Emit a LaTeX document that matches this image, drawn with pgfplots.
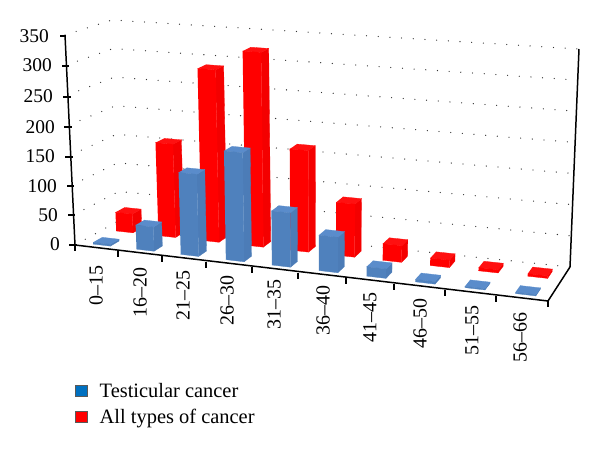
\documentclass[border=0pt]{standalone}
\usepackage{fontspec}
\setmainfont{Liberation Serif}
\usepackage{pgfplots}
\pgfplotsset{compat=1.18}
\definecolor{redF}{HTML}{FF0000}
\definecolor{redS}{HTML}{F40000}
\definecolor{redT}{HTML}{FF1010}
\definecolor{bluF}{HTML}{4F81BD}
\definecolor{bluS}{HTML}{4C7CB7}
\definecolor{bluT}{HTML}{5A8CCB}
\definecolor{legB}{HTML}{0070C0}
\definecolor{dotc}{HTML}{333333}
% a polygon given as rows "category offset depth value", projected into the picture
\pgfplotsset{
  table/proj/.style={x expr={PX(\thisrow{c}+\thisrow{d},\thisrow{t},\thisrow{v})},y expr={PY(\thisrow{c}+\thisrow{d},\thisrow{t},\thisrow{v})},row sep=\\},
  face/.style={fill=#1,draw=#1,line width=0.3pt,mark=none,forget plot},
  gridl/.style={draw=dotc,line width=1.3pt,line cap=round,dash pattern=on 0pt off 11.75pt,mark=none,forget plot},
  axl/.style={draw=black,line width=1.5pt,mark=none,forget plot},
}
% #1 category, #2 value, #3 t front, #4 t back, #5 colour prefix
\newcommand\Bar[5]{%
  \addplot[face=#5S] table[proj]{c d t v\\ #1 0.72 #3 0\\ #1 0.72 #4 0\\ #1 0.72 #4 #2\\ #1 0.72 #3 #2\\};
  \addplot[face=#5T] table[proj]{c d t v\\ #1 0.32 #3 #2\\ #1 0.72 #3 #2\\ #1 0.72 #4 #2\\ #1 0.32 #4 #2\\};
  \addplot[face=#5F] table[proj]{c d t v\\ #1 0.32 #3 0\\ #1 0.72 #3 0\\ #1 0.72 #3 #2\\ #1 0.32 #3 #2\\};
}
\newcommand\RedBar[2]{\Bar{#1}{#2}{0.62}{0.82}{red}}
\newcommand\BluBar[2]{\Bar{#1}{#2}{0.10}{0.30}{blu}}
\newcommand\Grid[1]{%
  \addplot[gridl] table[proj]{c d t v\\ 0 0 0 #1\\ 0 0 1 #1\\ 10 0 1 #1\\};
}
\begin{document}
\begin{tikzpicture}[
  declare function={
    FU(\a)=(\a/10)*(0.905+0.095*\a/10);
    PXB(\u,\t)=(1-\t)*(75+473*\u)+\t*(120+450*\u);
    PXT(\u,\t)=(1-\t)*(65+493*\u)+\t*(112+467*\u);
    PYB(\u,\t)=(1-\t)*(245+56*\u)+\t*(220+47*\u);
    PYT(\u,\t)=(1-\t)*(35+41*\u)+\t*(20+29*\u);
    PX(\a,\t,\v)=(1-\v/350)*PXB(FU(\a),\t)+(\v/350)*PXT(FU(\a),\t);
    PY(\a,\t,\v)=(1-\v/350)*PYB(FU(\a),\t)+(\v/350)*PYT(FU(\a),\t);
  }]
\useasboundingbox (0,0) rectangle (600bp,450bp);
\begin{axis}[
  at={(0,0)},anchor=south west,
  scale only axis,width=600bp,height=450bp,
  xmin=0,xmax=600,ymin=0,ymax=450,y dir=reverse,
  hide axis,clip=false,
  legend cell align=left,
  legend style={draw=none,fill=none,at={(axis cs:72,379)},anchor=north west,
    font=\fontsize{20.5}{25}\selectfont,row sep=6pt},
]
% walls
\Grid{0}\Grid{50}\Grid{100}\Grid{150}\Grid{200}\Grid{250}\Grid{300}\Grid{350}
% axis lines
\addplot[axl] table[proj]{c d t v\\ 0 0 0 350\\ 0 0 0 0\\ 10 0 0 0\\ 10 0 1 0\\ 10 0 1 350\\};
% all types of cancer (back row)
\RedBar{0}{32}\RedBar{1}{158}\RedBar{2}{290}\RedBar{3}{325}\RedBar{4}{168}
\RedBar{5}{87}\RedBar{6}{27}\RedBar{7}{12}\RedBar{8}{5}\RedBar{9}{4}
% testicular cancer (front row)
\BluBar{0}{3}\BluBar{1}{40}\BluBar{2}{135}\BluBar{3}{178}\BluBar{4}{88}
\BluBar{5}{57}\BluBar{6}{15}\BluBar{7}{4}\BluBar{8}{2}\BluBar{9}{2}
% ticks
\addplot[axl] coordinates {(75,245)(75,251)};
\addplot[axl] coordinates {(118,250.5)(118,256.5)};
\addplot[axl] coordinates {(162,256)(162,262)};
\addplot[axl] coordinates {(206,261.5)(206,267.5)};
\addplot[axl] coordinates {(252,267)(252,273)};
\addplot[axl] coordinates {(298,272.5)(298,278.5)};
\addplot[axl] coordinates {(346,278)(346,284)};
\addplot[axl] coordinates {(394,283.5)(394,289.5)};
\addplot[axl] coordinates {(445,289.5)(445,295.5)};
\addplot[axl] coordinates {(496,295.5)(496,301.5)};
\addplot[axl] coordinates {(548,301)(548,307)};
\addplot[axl] coordinates {(60,36)(65,36)};
\addplot[axl] coordinates {(62,66)(69,66)};
\addplot[axl] coordinates {(63,97)(71,97)};
\addplot[axl] coordinates {(64,127)(72,127)};
\addplot[axl] coordinates {(65,157)(73,157)};
\addplot[axl] coordinates {(67,186)(74,186)};
\addplot[axl] coordinates {(68,215)(75,215)};
\addplot[axl] coordinates {(69,245)(77,245)};
% tick labels
\foreach \lab/\xx/\yy in {350/49/36,300/52/65,250/53/96,200/55/127,150/55/156,100/57/186,50/58/215,0/60/244}{
  \edef\tmp{\noexpand\node[anchor=east,inner sep=0pt,font=\noexpand\fontsize{19.5}{19}\noexpand\selectfont] at (axis cs:\xx,\yy) {\lab};}\tmp
}
\foreach \lab/\xx/\yy in {0--15/96/265,16--20/140/267,21--25/183/270,26--30/227/275,31--35/274/279,36--40/323/285,41--45/370/292,46--50/420/298,51--55/472/305,56--66/520/312}{
  \edef\tmp{\noexpand\node[rotate=90,anchor=east,inner sep=0pt,font=\noexpand\fontsize{20}{20}\noexpand\selectfont] at (axis cs:\xx,\yy) {\lab};}\tmp
}
% legend
\addlegendimage{legend image code/.code={\draw[fill=legB,draw=gray!70!black,line width=0.7pt] (0bp,-5.5bp) rectangle (12bp,5.5bp);\path (22bp,0bp) circle (0pt);}}
\addlegendentry{Testicular cancer}
\addlegendimage{legend image code/.code={\draw[fill=red,draw=gray!70!black,line width=0.7pt] (0bp,-5.5bp) rectangle (12bp,5.5bp);\path (22bp,0bp) circle (0pt);}}
\addlegendentry{All types of cancer}
\end{axis}
\end{tikzpicture}
\end{document}
